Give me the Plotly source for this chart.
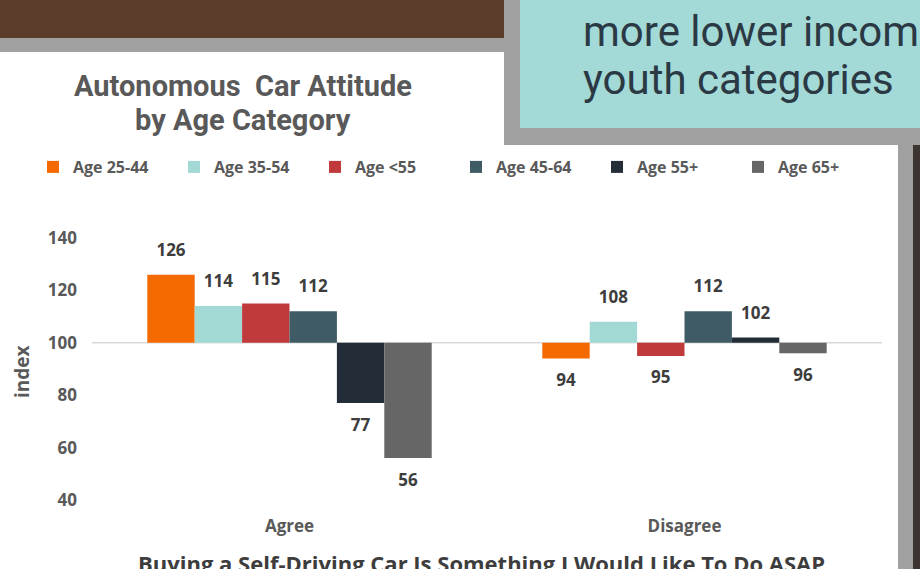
import plotly.graph_objects as go

categories = ["Agree", "Disagree"]
series_names = ["Age 25-44", "Age 35-54", "Age <55", "Age 45-64", "Age 55+", "Age 65+"]
series_values = [
    [126, 94],
    [114, 108],
    [115, 95],
    [112, 112],
    [77, 102],
    [56, 96],
]
colors = ["#f56a00", "#a3d9d5", "#c0393b", "#3f5c66", "#222d38", "#666666"]
y_ticks = [40, 60, 80, 100, 120, 140]
baseline = 100

W, H = 920, 569
L, R, T, B = 92, 882, 238, 500
FONT = "Open Sans"


def px(x):
    return (x - L) / (R - L)


def py(y):
    return (B - y) / (B - T)


fig = go.Figure()
for i, (name, vals, col) in enumerate(zip(series_names, series_values, colors)):
    fig.add_trace(go.Bar(
        name=name,
        x=categories,
        y=[v - baseline for v in vals],
        base=baseline,
        offsetgroup=str(i),
        marker=dict(color=col, line=dict(width=0)),
        hoverinfo="skip",
    ))
for i, vals in enumerate(series_values):
    fig.add_trace(go.Scatter(
        x=categories,
        y=vals,
        offsetgroup=str(i),
        mode="markers+text",
        marker=dict(size=22, opacity=0, color="white"),
        text=[str(v) for v in vals],
        textposition=["top center" if v >= baseline else "bottom center" for v in vals],
        textfont=dict(family=FONT, size=17, color="#3d3d3d", weight=700),
        showlegend=False,
        cliponaxis=False,
        hoverinfo="skip",
    ))

shapes = []
# decorative slide background
shapes.append(dict(type="rect", xref="paper", yref="paper", x0=px(0), x1=px(504), y0=py(0), y1=py(38),
                   fillcolor="#5a3d2b", line=dict(width=0), layer="below"))
shapes.append(dict(type="rect", xref="paper", yref="paper", x0=px(0), x1=px(504), y0=py(38), y1=py(52),
                   fillcolor="#a0a0a0", line=dict(width=0), layer="below"))
shapes.append(dict(type="rect", xref="paper", yref="paper", x0=px(504), x1=px(920), y0=py(0), y1=py(145),
                   fillcolor="#a0a0a0", line=dict(width=0), layer="below"))
shapes.append(dict(type="rect", xref="paper", yref="paper", x0=px(520), x1=px(920), y0=py(0), y1=py(128),
                   fillcolor="#a3d9d6", line=dict(width=0), layer="below"))
shapes.append(dict(type="rect", xref="paper", yref="paper", x0=px(898), x1=px(913), y0=py(145), y1=py(569),
                   fillcolor="#a0a0a0", line=dict(width=0), layer="below"))
shapes.append(dict(type="rect", xref="paper", yref="paper", x0=px(913), x1=px(920), y0=py(145), y1=py(569),
                   fillcolor="#3b3431", line=dict(width=0), layer="below"))
# baseline at 100
shapes.append(dict(type="line", xref="paper", yref="y", x0=0, x1=1, y0=baseline, y1=baseline,
                   line=dict(color="#d9d9d9", width=1.5), layer="below"))

title_font = dict(family="Roboto", size=29, color="#595959", weight=700)
teal_font = dict(family="Roboto", size=42, color="#2b3945")
annotations = [
    dict(text="Autonomous  Car Attitude", xref="paper", yref="paper",
         x=px(243), y=py(86), xanchor="center", yanchor="middle", showarrow=False, font=title_font),
    dict(text="by Age Category", xref="paper", yref="paper",
         x=px(243), y=py(120), xanchor="center", yanchor="middle", showarrow=False, font=title_font),
    dict(text="more lower income", xref="paper", yref="paper", x=px(581), y=py(31),
         xanchor="left", yanchor="middle", showarrow=False, font=teal_font),
    dict(text="youth categories", xref="paper", yref="paper", x=px(581), y=py(79),
         xanchor="left", yanchor="middle", showarrow=False, font=teal_font),
    dict(text="index", xref="paper", yref="paper", x=px(22), y=py(372), textangle=-90,
         xanchor="center", yanchor="middle", showarrow=False,
         font=dict(family=FONT, size=19, color="#595959", weight=700)),
    dict(text="Buying a Self-Driving Car Is Something I Would Like To Do ASAP", xref="paper", yref="paper",
         x=px(481), y=py(546), xanchor="center", yanchor="top", showarrow=False,
         font=dict(family=FONT, size=22, color="#3d3d3d", weight=700)),
]

fig.update_layout(
    width=W, height=H,
    margin=dict(l=L, r=W - R, t=T, b=H - B, pad=0),
    paper_bgcolor="white", plot_bgcolor="rgba(0,0,0,0)",
    barmode="group", bargap=0.28, bargroupgap=0,
    scattermode="group", scattergap=0.28,
    showlegend=True,
    legend=dict(orientation="h", x=px(33), y=py(167), xanchor="left", yanchor="middle",
                font=dict(family=FONT, size=16, color="#595959", weight=700),
                entrywidth=96, itemwidth=30, traceorder="normal",
                bgcolor="rgba(0,0,0,0)"),
    xaxis=dict(showgrid=False, zeroline=False, showline=False, ticks="",
               tickfont=dict(family=FONT, size=17, color="#595959", weight=700),
               ticklabelstandoff=14),
    yaxis=dict(range=[40, 140], tickvals=y_ticks, showgrid=False, zeroline=False, showline=False,
               ticks="", tickfont=dict(family=FONT, size=17, color="#595959", weight=700),
               ticklabelstandoff=14),
    shapes=shapes,
    annotations=annotations,
    hovermode=False,
)

fig.write_html("out.html")
